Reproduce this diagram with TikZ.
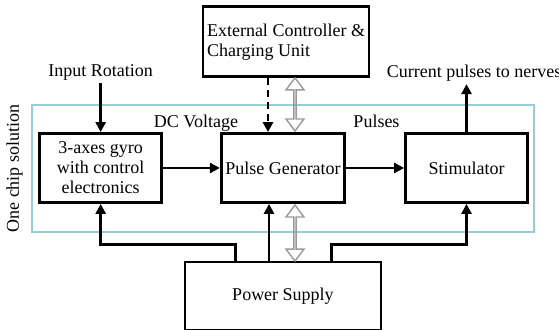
\documentclass[tikz,border=0pt]{standalone}
\usepackage{fontspec}
\setmainfont{Liberation Serif}
\usetikzlibrary{positioning, shapes.arrows, arrows.meta}
\definecolor{chipline}{RGB}{150,205,215}

\begin{document}
\begin{tikzpicture}[
        font=\fontsize{9}{10}\selectfont,
        block/.style={rectangle, draw=black, line width=1.4pt, minimum width=61pt, minimum height=34.5pt, inner sep=2pt, align=center},
        lbl/.style={inner sep=1pt, text height=6.5pt, text depth=2pt},
        arrow/.style={-{Triangle[length=5pt, width=5pt]}, line width=1.3pt},
        link/.style={double arrow, draw=gray!80, line width=0.7pt, inner sep=0pt, minimum width=9pt, double arrow head extend=2.5pt, double arrow tip angle=74, rotate=90},
        chipbox/.style={draw=chipline, line width=0.6pt, minimum width=251pt, minimum height=63.5pt}
    ]
        \useasboundingbox (0,0) rectangle (279.5pt,-165pt);

        % the one chip area
        \node[chipbox] (chip) at (141.5pt,-84.25pt) {};
        \node[lbl, rotate=90] (onechip) at ([xshift=-8.5pt]chip.west) {One chip solution};

        \node[block] (pg) at (141.5pt,-84pt) {Pulse Generator};
        \node[block, left=28.4pt of pg] (gyro) {3-axes gyro\\with control\\electronics};
        \node[block, right=29pt of pg] (stim) {Stimulator};
        \node[block, minimum width=80.6pt, minimum height=35pt, align=left, above=26.9pt of pg, xshift=1.5pt] (ext) {External Controller \&\\Charging Unit};
        \node[block, minimum width=98pt, minimum height=34pt, below=28.4pt of pg] (power) {Power Supply};

        \node[lbl, above=24.5pt of gyro] (inrot) {Input Rotation};
        \node[lbl, above=24pt of stim, xshift=3.75pt] (cur) {Current pulses to nerves};
        \node[lbl] (dcv) at (98pt,-61.5pt) {DC Voltage};
        \node[lbl] (pls) at (188.25pt,-61.5pt) {Pulses};

        % two way links
        \node[link, minimum height=26.5pt, anchor=west] (uplink) at ([xshift=6pt]pg.north) {};
        \node[link, minimum height=28pt, anchor=east] (lowlink) at ([xshift=6pt]pg.south) {};

        \draw[arrow] (inrot) -- (gyro);
        \draw[arrow] (stim) -- (stim.north |- cur.south);
        \draw[arrow] (gyro) -- (pg);
        \draw[arrow] (pg) -- (stim);
        \draw[arrow, dash pattern=on 3.5pt off 2.5pt] ([xshift=-7.5pt]pg.north |- ext.south) -- ([xshift=-7.5pt]pg.north);
        \draw[arrow] ([xshift=-7pt]pg.south |- power.north) -- ([xshift=-7pt]pg.south);
        \draw[arrow] ([xshift=-23.75pt]power.north) -- ++(0,8pt) -| (gyro.south);
        \draw[arrow] ([xshift=24.25pt]power.north) -- ++(0,8pt) -| (stim.south);
    \end{tikzpicture}
\end{document}
